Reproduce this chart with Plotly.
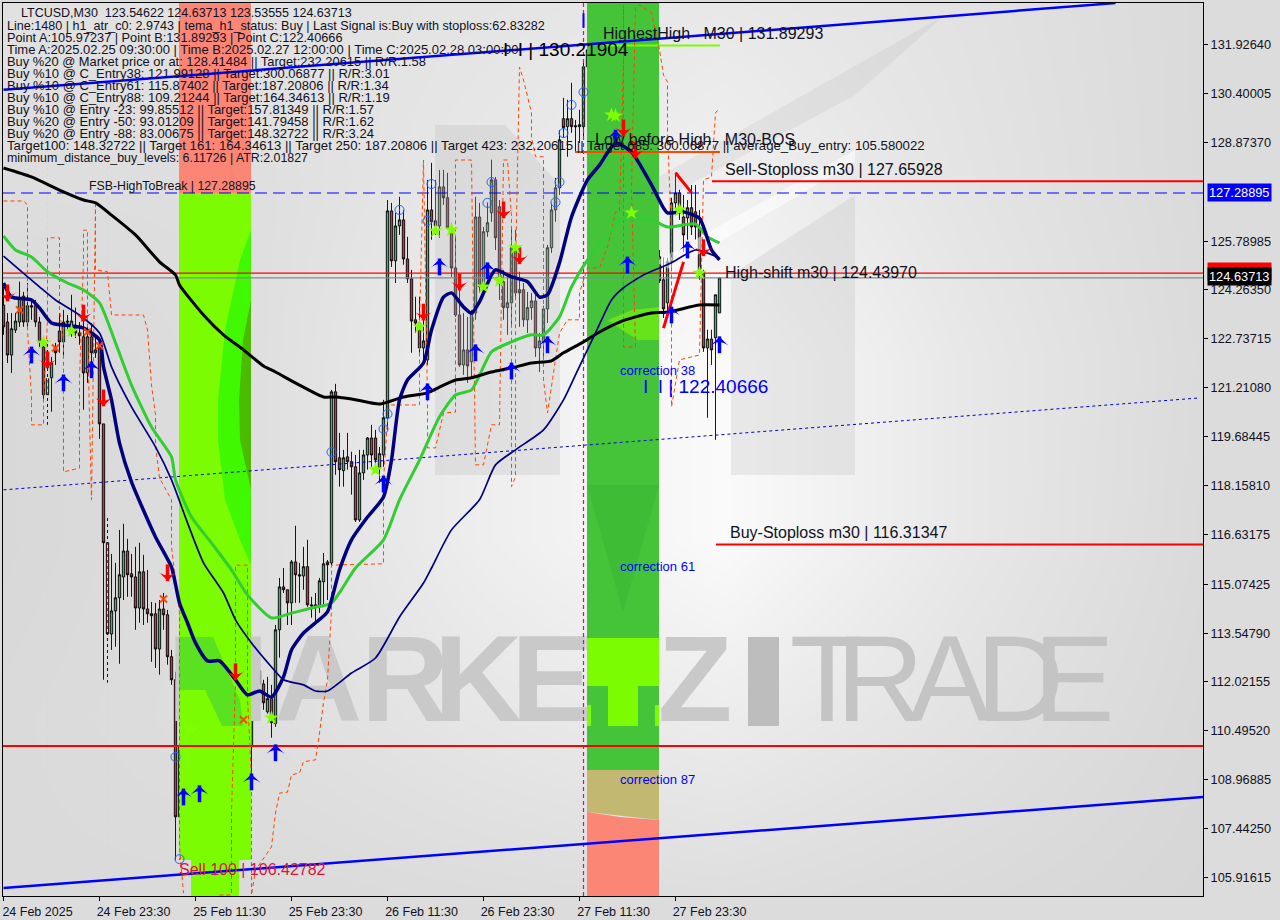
import plotly.graph_objects as go

# ---------------- chart data (prices) ----------------
tick_prices = [131.92640,130.40005,128.87370,125.78985,124.26350,122.73715,121.21080,119.68445,118.15810,
               116.63175,115.07425,113.54790,112.02155,110.49520,108.96885,107.44250,105.91615]
time_bars = [0,24,48,72,96,120,144,168]
time_labels = ["24 Feb 2025","24 Feb 23:30","25 Feb 11:30","25 Feb 23:30","26 Feb 11:30","26 Feb 23:30","27 Feb 11:30","27 Feb 23:30"]

opens = [123.79,123.26,122.23,123.01,123.26,124.07,123.26,123.77,123.77,123.26,122.48,120.99,121.52,122.48,122.98,122.64,123.29,122.95,123.08,122.92,
 122.80,121.67,122.80,122.30,122.48,120.08,116.37,113.52,114.24,114.65,115.30,116.11,115.40,115.30,114.33,115.46,114.30,114.15,114.15,113.05,
 114.30,114.12,112.81,112.09,107.81,110.00,112.06,111.77,109.87,110.78,111.37,112.09,110.12,112.46,112.59,113.18,111.84,111.37,110.78,109.68,
 109.68,111.59,110.00,111.37,112.37,111.96,111.09,111.50,110.72,113.65,114.99,114.90,114.49,115.77,115.37,115.33,115.62,114.43,114.37,114.37,
 115.15,115.77,115.74,121.08,119.02,118.62,119.05,118.90,118.74,117.08,118.55,119.11,119.64,119.64,118.71,119.11,120.27,126.73,125.17,126.26,
 126.45,125.23,124.61,123.33,123.23,122.45,122.08,126.76,126.42,126.26,127.48,127.14,126.20,124.95,123.48,121.92,122.39,122.02,123.54,126.54,
 124.36,126.08,126.67,127.70,126.86,124.52,123.71,123.86,125.58,124.27,124.27,123.33,123.71,123.92,122.45,122.64,123.67,125.58,126.76,127.45,
 129.61,129.36,129.61,129.39,129.36,129.36,131.23,131.76,129.98,129.39,129.36,130.14,130.29,129.79,131.35,128.42,128.32,128.42,126.70,126.86,
 125.92,126.45,126.45,126.39,125.30,124.58,123.86,125.14,126.98,127.29,126.54,126.51,126.83,126.70,126.20,124.80,122.45,122.73,122.77,123.54622]
highs = [124.36,123.54,123.54,123.54,124.52,124.20,124.48,124.01,123.95,123.42,122.61,122.70,122.17,122.61,123.54,123.64,123.48,124.11,123.71,123.26,
 123.73,123.11,123.23,122.80,122.61,120.08,117.15,116.02,115.74,116.77,116.96,116.49,116.02,116.24,116.37,115.99,115.52,114.52,114.49,114.58,
 114.80,114.27,113.02,112.34,110.78,112.87,113.18,112.15,111.55,111.52,113.46,112.31,112.71,113.34,113.24,113.68,112.09,111.77,112.40,111.68,
 112.78,111.77,112.71,112.40,112.62,112.09,112.18,111.93,113.80,115.27,115.58,114.90,115.83,116.90,115.74,116.24,116.46,114.68,114.80,115.27,
 116.05,115.83,121.14,121.33,119.80,119.27,119.80,119.21,119.11,119.27,119.27,119.67,120.05,119.89,119.36,120.83,127.07,126.98,126.67,127.17,
 126.76,125.92,124.89,124.05,124.05,123.33,127.70,128.23,127.70,128.01,128.01,127.92,126.36,125.92,124.73,123.54,123.42,123.64,127.17,126.98,
 126.23,126.98,128.33,127.79,127.07,124.89,124.80,126.20,126.14,124.83,124.48,124.20,124.17,124.11,122.92,123.77,125.67,126.98,127.76,129.26,
 130.26,130.20,130.73,129.57,129.89,131.45,131.70,131.89,130.51,130.20,130.73,130.76,130.67,131.60,131.60,129.73,128.95,128.64,126.98,127.07,
 126.70,127.14,126.92,127.29,125.51,125.27,125.27,127.14,127.92,127.39,127.23,127.07,127.54,127.54,126.76,124.89,123.02,123.02,124.11,124.63713]
lows = [122.86,121.98,121.67,122.92,123.11,123.11,123.11,123.33,123.11,122.48,120.83,120.05,120.46,121.92,122.30,122.14,123.01,122.80,122.76,122.55,
 120.52,121.36,121.61,122.14,119.61,112.09,112.00,113.02,113.12,112.59,114.58,114.68,114.68,113.65,113.87,113.80,113.87,112.65,112.46,112.25,
 113.65,112.56,111.93,106.47,106.53,109.68,111.46,109.59,109.75,109.22,110.84,109.81,109.97,112.18,112.09,111.68,111.25,110.37,108.87,108.97,
 109.09,109.50,109.12,111.31,111.77,111.15,111.03,110.28,110.62,112.78,114.80,113.80,113.80,114.49,114.49,114.90,114.37,114.03,113.87,114.18,
 114.37,114.58,115.62,118.49,118.12,118.12,118.65,117.87,117.02,117.02,118.33,118.65,118.74,118.65,118.24,118.74,119.89,124.98,124.48,125.98,
 125.05,124.48,122.30,122.92,122.30,122.08,121.92,125.83,125.98,125.89,126.92,126.14,124.67,123.42,121.86,121.61,121.36,121.55,123.33,124.17,
 124.11,125.92,126.39,125.51,123.95,123.33,122.86,123.17,123.95,123.11,123.11,122.92,123.33,122.17,121.70,122.17,123.23,125.42,126.39,127.23,
 129.02,128.42,129.17,128.54,128.85,128.95,130.98,129.79,129.26,129.11,129.04,129.57,129.63,129.42,129.11,123.08,125.98,125.98,126.39,125.14,
 125.61,125.73,126.08,125.11,124.48,123.39,123.48,124.89,126.76,126.45,125.45,125.83,125.98,125.83,124.58,122.33,120.27,121.92,119.58,123.53555]
closes = [123.11,122.23,123.05,123.29,124.01,123.26,123.77,123.73,123.26,122.64,120.99,121.49,121.98,122.30,122.64,123.26,123.26,123.29,122.92,122.83,
 121.67,122.80,122.30,122.39,120.08,116.37,113.52,114.24,114.65,115.37,116.11,115.37,115.30,114.33,115.46,114.30,114.15,114.09,113.05,114.30,
 114.12,112.81,112.09,107.81,110.00,112.06,111.74,109.90,110.78,111.43,112.09,110.12,112.46,112.59,113.18,111.84,111.37,110.78,109.62,109.62,
 111.59,109.75,111.40,112.37,111.96,111.37,111.50,110.75,113.65,114.99,114.90,114.49,115.77,115.37,115.33,115.62,114.43,114.40,114.43,115.18,
 115.71,115.68,121.08,118.90,118.65,119.02,118.90,118.74,117.08,118.55,119.11,119.64,119.11,118.96,119.15,120.27,126.73,125.17,126.26,126.45,
 125.23,124.61,123.29,123.23,122.45,122.67,126.76,126.39,126.26,127.48,127.14,126.20,124.95,123.48,121.92,122.39,121.89,123.54,126.54,124.36,
 126.08,126.36,127.70,125.89,124.52,123.71,123.86,125.58,124.17,124.17,123.33,123.71,123.92,122.45,122.67,123.67,125.58,126.76,127.45,128.95,
 129.33,129.61,129.36,129.36,129.42,131.23,131.76,129.98,129.39,129.36,130.14,130.29,129.82,131.35,129.73,126.76,126.76,126.76,126.86,125.92,
 126.42,126.42,126.42,125.27,124.55,123.67,125.14,126.98,127.29,126.70,125.98,126.83,126.23,126.23,124.80,122.45,122.73,122.39,124.11,124.63713]

slow_ma_bars = [0,7,14,20,23,27,33,39,43,44,50,55,60,65,68,74,80,83,87,94,100,106,109,113,117,122,127,132,137,140,145,149,154,158,162,166,174,179]
slow_ma_vals = [128.07,127.79,127.38,127.07,126.98,126.60,125.98,125.14,124.73,124.42,123.48,122.86,122.39,121.89,121.70,121.29,120.92,120.92,120.86,120.70,120.92,121.05,121.23,121.45,121.52,121.70,121.83,121.98,122.05,122.30,122.64,122.95,123.26,123.42,123.54,123.57,123.79,123.79]
fast_bars = [0,2,7,9,12,17,20,24,25,27,29,32,38,42,44,46,48,51,54,58,61,64,67,70,72,75,78,81,84,87,91,95,97,99,101,105,107,110,112,115,117,119,122,123,127,131,134,136,139,142,146,149,153,157,162,165,166,170,174,177,179]
fast_vals = [124.48,124.04,123.95,123.70,123.23,123.14,123.07,122.70,121.86,120.83,119.48,118.27,116.55,115.61,114.49,113.87,113.24,112.68,112.68,112.09,111.62,111.74,111.55,112.18,113.02,113.55,113.87,114.21,115.52,116.46,117.17,117.80,118.95,120.83,121.45,121.98,123.01,124.04,124.17,123.73,123.54,123.89,124.73,124.89,124.67,124.52,124.04,124.11,125.11,126.54,127.70,128.16,128.85,128.57,127.54,126.82,126.67,126.70,126.50,125.51,125.20]
mid_bars = [0,4,9,13,19,24,27,32,38,42,46,50,55,58,62,67,70,75,78,81,87,93,99,105,107,112,119,123,128,135,140,143,148,152,155,160,164,167,173,179]
mid_vals = [125.32,124.89,124.36,123.95,123.48,122.92,121.86,120.61,119.36,118.33,116.99,115.74,114.80,113.96,113.24,112.49,112.09,111.93,111.74,111.74,112.30,112.77,114.05,115.11,115.58,116.77,117.71,118.80,119.27,119.89,120.83,121.61,122.92,123.95,124.33,124.73,124.95,125.11,125.51,125.26]
green_bars = [0,3,7,11,16,20,24,28,32,37,42,43,47,52,57,61,67,72,77,82,88,95,99,104,109,113,117,122,127,132,135,139,142,146,152,154,162,166,173,176,179]
green_vals = [125.95,125.51,125.29,124.83,124.48,124.26,123.86,122.61,121.29,119.98,119.05,118.33,117.17,116.36,115.52,114.74,114.02,114.17,114.33,114.49,115.58,116.46,117.71,118.95,120.30,120.98,121.14,122.33,122.64,122.86,122.86,123.42,124.36,125.20,126.14,126.45,126.45,126.23,126.32,125.92,125.73]

stop_a_bars = [0,5,6,6,7,7,10,10,11,11,14,14,15,15,19,19,20,20,21,21,22,23,23,26,27,35,36,37,38,38,39,42,42,42,44,44,45]
stop_a_vals = [127.04,127.04,126.92,123.01,120.92,120.05,120.05,120.83,123.33,125.89,125.89,123.64,122.70,118.58,118.70,121.45,125.20,126.13,126.13,123.01,117.71,126.92,124.89,124.83,123.48,123.48,123.01,121.29,120.36,119.42,118.39,117.71,117.08,116.24,114.18,106.87,105.43]
stop_b_bars = [54,57,57,58,58,61,61,62,62,63,67,68,69,71,72,74,75,78,79,80,81,82,82,95,95,96,96,104,104,105,106,106,108,110,113,113,117,118,120,122,124,125,126,127,127,128,128,129,130,132,132,133,135,135,135,136,139,141,144,144,146,149,151,152,153,154,155,155,155,158,157,158,159,162,164,165,166,166,167,167,167,169,174,175,177,178,179]
stop_b_vals = [105.37,105.37,107.93,112.09,115.67,115.67,111.55,108.96,105.37,106.15,106.87,107.93,108.55,108.58,109.12,109.18,109.53,109.59,110.43,111.37,112.09,114.27,115.67,115.71,118.33,120.20,120.67,120.67,123.11,128.32,120.83,119.33,119.33,120.42,120.45,128.32,128.32,118.80,118.80,120.05,120.05,128.32,128.32,126.54,118.12,118.42,124.89,131.22,130.82,129.79,129.04,128.42,128.42,126.54,121.45,120.42,122.92,123.33,123.33,124.17,124.95,124.95,125.60,126.13,126.70,126.70,131.44,133.16,122.48,122.48,127.38,133.10,133.16,132.91,131.76,130.97,130.76,129.16,126.04,122.80,120.61,122.08,122.23,127.70,127.79,129.79,129.94]

up_arrow_bars = [7,15,22,45,49,62,68,95,106,109,118,121,127,136,153,156,167,171,179]
up_arrow_vals = [122.23,121.36,121.77,108.43,108.53,108.90,109.81,118.20,121.08,124.98,122.30,124.86,121.73,122.55,129.00,125.04,123.48,125.51,122.55]
down_arrow_bars = [1,11,20,25,41,58,105,114,125,129,155,158,175]
down_arrow_vals = [124.17,122.08,123.54,120.89,115.43,112.34,123.57,124.51,126.76,125.33,129.32,128.63,125.58]
star_bars = [10,17,67,47,93,104,108,112,120,124,128,152,153,157,169,174]
star_vals = [122.61,122.98,110.90,110.53,118.65,123.11,126.11,126.14,124.36,124.55,125.58,129.73,129.70,126.67,126.76,124.79]
cross_bars = [4,13,21,24,40,60]
cross_vals = [123.64,122.45,122.95,122.52,114.61,110.84]
circle_bars = [43,44,82,95,96,99,106,107,121,122,138,139,140,142,145]
circle_vals = [109.68,106.49,119.20,119.92,120.39,126.76,126.42,127.57,126.98,127.63,127.00,127.63,129.16,130.04,130.44]
pale_bars = [8,50,65,78,168]
pale_vals = [123.11,110.15,111.02,113.11,125.79]
red_box_bars = [23,26,125,130,159,178]
red_box_vals = [123.11,118.08,124.98,125.29,127.92,123.70]

info_lines = [
 "Line:1480 | h1_atr_c0: 2.9743 | tema_h1_status: Buy | Last Signal is:Buy with stoploss:62.83282",
 "Point A:105.97237 | Point B:131.89293 | Point C:122.40666",
 "Time A:2025.02.25 09:30:00 | Time B:2025.02.27 12:00:00 | Time C:2025.02.28 03:00:00",
 "Buy %20 @ Market price or at: 128.41484 || Target:232.20615 || R/R:1.58",
 "Buy %10 @ C_Entry38: 121.99128 || Target:300.06877 || R/R:3.01",
 "Buy %10 @ C_Entry61: 115.87402 || Target:187.20806 || R/R:1.34",
 "Buy %10 @ C_Entry88: 109.21244 || Target:164.34613 || R/R:1.19",
 "Buy %10 @ Entry -23: 99.85512 || Target:157.81349 || R/R:1.57",
 "Buy %20 @ Entry -50: 93.01209 || Target:141.79458 || R/R:1.62",
 "Buy %20 @ Entry -88: 83.00675 || Target:148.32722 || R/R:3.24",
 "Target100: 148.32722 || Target 161: 164.34613 || Target 250: 187.20806 || Target 423: 232.20615 || Target 685: 300.06877 || average_Buy_entry: 105.580022",
 "minimum_distance_buy_levels: 6.11726 | ATR:2.01827",
]
info_sizes = [12.6,12.75,13,12.9,13,13,13,13,13,13,13.2,12.4]

# ---------------- layout geometry ----------------
W, H = 1280, 920
L, R, T, B = 3, 1203, 3, 896
P_TOP, P_BOT = 133.222, 105.338
FONT = "Liberation Sans"

def bx(px):  # pixel column -> bar position
    return (px - 3.5) / 4.0
def py(px):  # pixel row -> price
    return P_TOP - (px - T) * (P_TOP - P_BOT) / (B - T)

PRICE_PER_PX = (P_TOP - P_BOT) / (B - T)

fig = go.Figure()

# backdrop gradient
bg_x = [bx(v) for v in (3, 243, 483, 723, 963, 1203)]
bg_y = [py(v) for v in (3, 182, 361, 540, 719, 896)]
bg_z = [[225,226,228,232,226,218],
        [222,222,232,240,228,218],
        [216,222,238,250,232,219],
        [216,222,238,250,232,218],
        [218,222,230,236,226,216],
        [218,218,220,222,218,214]]
fig.add_trace(go.Heatmap(x=bg_x, y=bg_y, z=bg_z, zsmooth="best", zmin=210, zmax=255, showscale=False,
                         colorscale=[[0,"rgb(210,210,210)"],[1,"rgb(255,255,255)"]], hoverinfo="skip"))

def poly(xs, ys, color):
    fig.add_trace(go.Scatter(x=[bx(v) for v in xs]+[bx(xs[0])], y=[py(v) for v in ys]+[py(ys[0])], mode="lines",
                             fill="toself", fillcolor=color, line=dict(width=0), hoverinfo="skip"))

# watermark logo
poly([435,435,505,560,560],[475,125,125,185,475],"rgba(190,190,190,0.30)")
poly([731,731,855,855],[475,275,195,475],"rgba(190,190,190,0.28)")
poly([600,945,855,680],[210,15,95,190],"rgba(170,170,170,0.17)")
poly([655,855,855,672],[262,150,162,270],"rgba(255,255,255,0.55)")

def word(letters, centers, px_y, size, color):
    fig.add_trace(go.Scatter(x=[bx(v) for v in centers], y=[py(px_y)]*len(letters), mode="text", text=letters,
                             textposition="middle center", hoverinfo="skip",
                             textfont=dict(family=FONT, size=size, color=color)))
word(["<b>%s</b>" % c for c in "MARKETZ"], [218,318,405,478,552,622,695], 690, 122, "#c9c9c9")
word(list("TRADE"), [827,880,950,1020,1074], 690, 122, "#c4c4c4")
poly([748,779,779,748],[637,637,726,726],"#bdbdbd")

# left zone
SALMON, LIME = "#fc8676", "#7cfc00"
poly([179,251,251,179],[3,3,193,193],SALMON)
poly([179,251,251,239,239,191,191,179],[193,193,860,860,896,896,860,860],LIME)
poly([251,240,225,218,218,225,240,251],[230,260,330,400,440,500,540,565],"#40f800")
poly([251,243,239,240,251],[300,340,400,440,490],"#4bbb00")
poly([179,213,240,243,222,205,179],[637,637,700,726,726,690,690],"#5ae220")
# right zone
poly([587,659,659,587],[3,3,770,770],"#45c43a")
poly([587,659,623],[485,485,612],"#3fbc35")
poly([608,632,659,659,638,622],[320,310,307,340,340,330],"#66e31a")
poly([587,659,659,587],[638,638,686,686],LIME)
poly([608,638,638,608],[686,686,726,726],LIME)
poly([587,591,591,587],[705,705,726,726],LIME)
poly([655,659,659,655],[705,705,726,726],LIME)
poly([587,659,659,587],[770,770,820,812],"#c3b872")
poly([587,620,659,659,587],[812,817,820,896,896],SALMON)

def hline(price, x0, x1, color, width, dash="solid"):
    fig.add_trace(go.Scatter(x=[x0,x1], y=[price,price], mode="lines", hoverinfo="skip",
                             line=dict(color=color, width=width, dash=dash)))

END = bx(R)
# vertical session lines
for b in (11, 26):
    fig.add_trace(go.Scatter(x=[b,b], y=[P_BOT,P_TOP], mode="lines", hoverinfo="skip",
                             line=dict(color="#b6e6ea", width=1, dash="dot")))
fig.add_trace(go.Scatter(x=[145,145], y=[P_BOT,P_TOP], mode="lines", hoverinfo="skip",
                         line=dict(color="#c71585", width=1.2, dash="4px,3px")))
fig.add_trace(go.Scatter(x=[145,145], y=[132.9,132.45], mode="lines", hoverinfo="skip",
                         line=dict(color="#0000ff", width=2)))

# channel + levels
hline(127.28895, bx(L), END, "#0000ff", 1.2, "12px,6px")
hline(124.78865, bx(L), END, "#ff0000", 1.2)
hline(124.63713, bx(L), END, "#7f8c8d", 1.2)
hline(110.02, bx(L), END, "#ff0000", 2)
hline(127.65928, bx(712), END, "#ff0000", 2)
hline(116.31347, bx(716), END, "#ff0000", 2)
hline(131.89293, bx(603), bx(720), "#7cfc00", 2)
hline(128.57, bx(575), bx(720), "#ff4500", 2)

channel_dot_bars, channel_dot_vals = [0,299], [118.02,120.89]
channel_top_bars, channel_top_vals = [0,278], [130.51,133.22]
channel_low_bars, channel_low_vals = [0,300], [105.59,108.43]
fig.add_trace(go.Scatter(x=channel_dot_bars, y=channel_dot_vals, mode="lines", hoverinfo="skip",
                         line=dict(color="#0000cd", width=1, dash="3px,3px")))

# dashed stop trail
for xs, ys in ((stop_a_bars, stop_a_vals), (stop_b_bars, stop_b_vals)):
    fig.add_trace(go.Scatter(x=xs, y=ys, mode="lines", hoverinfo="skip",
                             line=dict(color="#ff4500", width=1, dash="4px,3px")))

# candles
fig.add_trace(go.Candlestick(x=list(range(len(opens))), open=opens, high=highs, low=lows, close=closes,
    increasing=dict(line=dict(color="#000000", width=0.9), fillcolor="#3cb371"),
    decreasing=dict(line=dict(color="#000000", width=0.9), fillcolor="#c8324a"),
    whiskerwidth=0, hoverinfo="skip", showlegend=False))

# averages
curve = dict(shape="spline", smoothing=0.6)
fig.add_trace(go.Scatter(x=green_bars, y=green_vals, mode="lines", hoverinfo="skip", line=dict(color="#32cd32", width=3, **curve)))
fig.add_trace(go.Scatter(x=slow_ma_bars, y=slow_ma_vals, mode="lines", hoverinfo="skip", line=dict(color="#000000", width=3, **curve)))
fig.add_trace(go.Scatter(x=mid_bars, y=mid_vals, mode="lines", hoverinfo="skip", line=dict(color="#000080", width=1.7, **curve)))
fig.add_trace(go.Scatter(x=fast_bars, y=fast_vals, mode="lines", hoverinfo="skip", line=dict(color="#000080", width=3.5, **curve)))

# channel solid
fig.add_trace(go.Scatter(x=channel_top_bars, y=channel_top_vals, mode="lines", hoverinfo="skip", line=dict(color="#0000ff", width=2.5)))
fig.add_trace(go.Scatter(x=channel_low_bars, y=channel_low_vals, mode="lines", hoverinfo="skip", line=dict(color="#0000ff", width=2.5)))

# red swing strokes
swing_a_bars, swing_a_vals = [168,172], [127.92,127.3]
swing_b_bars, swing_b_vals = [165,170], [123.07,125.14]
fig.add_trace(go.Scatter(x=swing_a_bars, y=swing_a_vals, mode="lines", hoverinfo="skip", line=dict(color="#ff0000", width=3)))
fig.add_trace(go.Scatter(x=swing_b_bars, y=swing_b_vals, mode="lines", hoverinfo="skip", line=dict(color="#ff0000", width=3)))

# signals
def marks(xs, ys, symbol, size, color, line_w=0, line_c=None, angle=0):
    fig.add_trace(go.Scatter(x=xs, y=ys, mode="markers", hoverinfo="skip",
        marker=dict(symbol=symbol, size=size, color=color, angle=angle, line=dict(width=line_w, color=line_c or color))))
offset = 8 * PRICE_PER_PX
marks(up_arrow_bars, up_arrow_vals, "line-ns", 12, "#0000ff", 3.5, "#0000ff")
marks(up_arrow_bars, [v + offset for v in up_arrow_vals], "arrow-wide", 13, "#0000ff")
marks(down_arrow_bars, down_arrow_vals, "line-ns", 12, "#ff0000", 3.5, "#ff0000")
marks(down_arrow_bars, [v - offset for v in down_arrow_vals], "arrow-wide", 13, "#ff0000", angle=180)
marks(star_bars, star_vals, "star", 11, "#7fff00")
marks(cross_bars, cross_vals, "x-thin", 7, "#ff4500", 2, "#ff4500")
marks(circle_bars, circle_vals, "circle-dot", 9, "rgba(0,0,0,0)", 1, "#1e64ff")
marks(pale_bars, pale_vals, "arrow-open", 10, "rgba(0,0,0,0)", 1, "#1e90ff", angle=45)
marks(red_box_bars, red_box_vals, "arrow-open", 10, "rgba(0,0,0,0)", 1, "#ff4040", angle=135)

# ---------------- text ----------------
notes = []
def note(px_x, px_y, text, size=12, color="#111122", bg=None, pad=0):
    notes.append(dict(x=(px_x-1.5-L)/(R-L), y=1-(px_y-T)/(B-T), xref="paper", yref="paper", text=text, showarrow=False,
                      xanchor="left", yanchor="middle", align="left", bgcolor=bg, borderpad=pad,
                      font=dict(family=FONT, size=size, color=color)))

note(21, 13, "LTCUSD,M30  123.54622 124.63713 123.53555 124.63713", 12.5)
for k, (line, sz) in enumerate(zip(info_lines, info_sizes)):
    note(7, 25.7+12*k, line, sz)
note(89, 186, "FSB-HighToBreak | 127.28895", 12.3)
note(603, 33, "HighestHigh   M30 | 131.89293", 16)
note(595, 140, "Low before High   M30-BOS", 16)
note(726, 169, "Sell-Stoploss m30 | 127.65928", 16)
note(726, 272, "High-shift m30 | 124.43970", 16)
note(730, 532, "Buy-Stoploss m30 | 116.31347", 16)
note(503, 50, "I\u2002I | 130.21904", 19, "#000000")
note(643, 386, "I\u2002I | 122.40666", 19, "#0000ff")
note(620, 370, "correction 38", 13, "#0000ff")
note(620, 566, "correction 61", 13, "#0000ff")
note(620, 779, "correction 87", 13, "#0000ff")
note(179, 869, "Sell 100 | 106.42782", 16, "#dc143c")
note(1208.5, 271, "124.78865", 12.8, "#000000", "#ff0000", 1)
note(1208.5, 193, "127.28895", 12.8, "#ffffff", "#0000ff", 1)
note(1208.5, 277, "124.63713", 12.8, "#ffffff", "#000000", 1)

fig.update_layout(
    width=W, height=H, showlegend=False, paper_bgcolor="#dcdcdc", plot_bgcolor="#dcdcdc",
    boxgap=0.42, boxgroupgap=0,
    margin=dict(l=L, r=W-R, t=T, b=H-B, pad=0, autoexpand=False), annotations=notes,
    font=dict(family=FONT, size=12, color="#111122"),
    xaxis=dict(range=[bx(L), bx(R)], tickmode="array", tickvals=time_bars, ticktext=time_labels, ticks="outside", ticklen=4,
               tickcolor="#000000", showgrid=False, zeroline=False, showline=True, linecolor="#000000", linewidth=1, mirror=True,
               automargin=False, rangeslider=dict(visible=False), ticklabelshift=34, tickfont=dict(family=FONT, size=12.5, color="#111122")),
    yaxis=dict(range=[P_BOT, P_TOP], side="right", tickmode="array", tickvals=tick_prices, ticktext=[f"{v:.5f}" for v in tick_prices],
               ticks="outside", ticklen=4, tickcolor="#000000", showgrid=False, zeroline=False, showline=True, linecolor="#000000",
               linewidth=1, mirror=True, automargin=False, tickfont=dict(family=FONT, size=12.8, color="#111122")),
)

fig.write_html("out.html", config=dict(displayModeBar=False),
               post_script="document.body.style.margin='0';document.body.style.overflow='hidden';")
